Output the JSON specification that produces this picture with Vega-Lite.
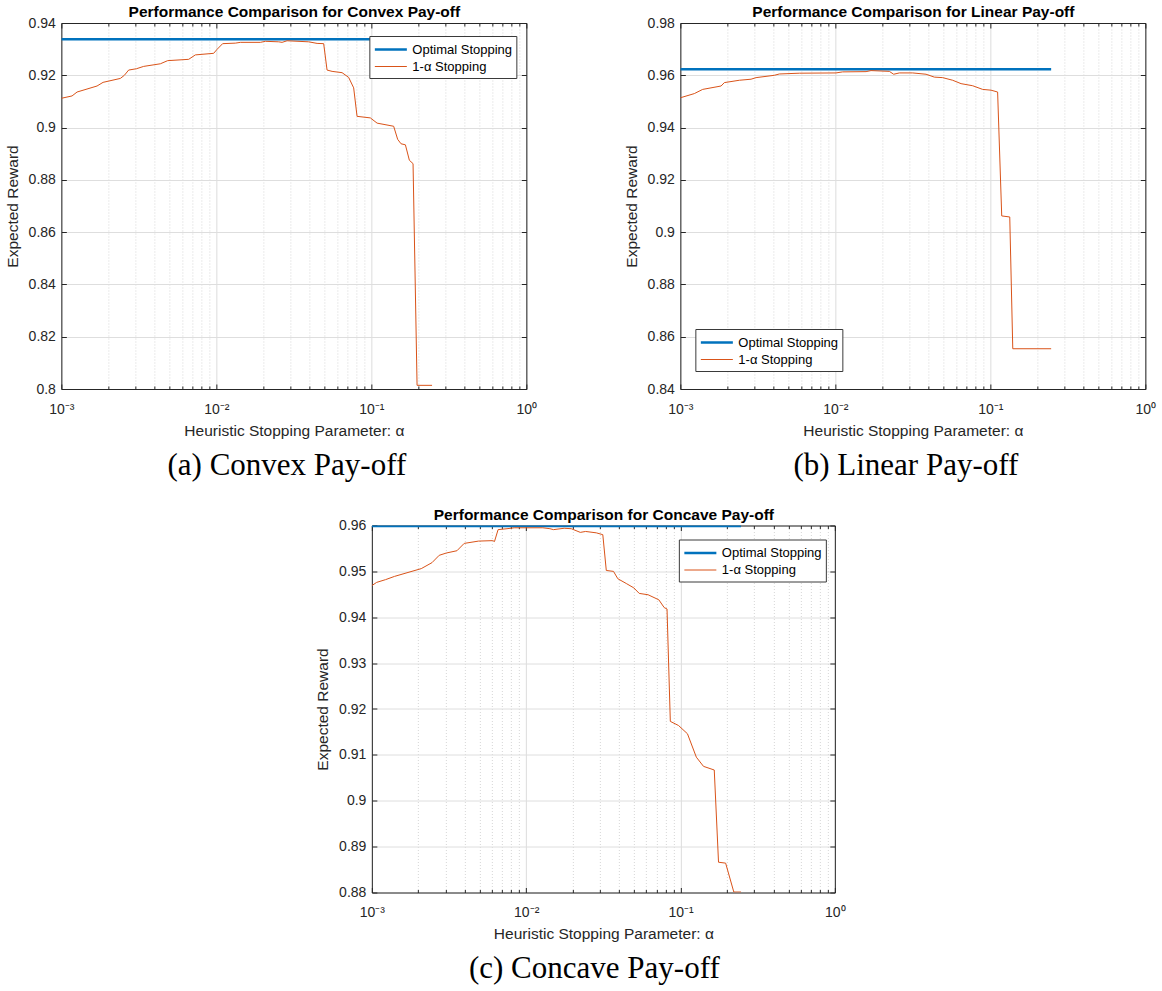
{
  "$schema": "https://vega.github.io/schema/vega-lite/v6.json",
  "padding": {"left": 5, "top": 4, "right": 3, "bottom": 3},
  "background": "white",
  "config": {
    "view": {"stroke": null},
    "font": "Liberation Sans",
    "axis": {
      "labelFont": "Liberation Sans", "labelFontSize": 14, "labelColor": "#262626",
      "titleFont": "Liberation Sans", "titleFontSize": 15.5, "titleColor": "#262626", "titleFontWeight": "normal",
      "domainColor": "#262626", "domainWidth": 1, "tickColor": "#262626", "tickWidth": 1,
      "gridColor": "#e0e0e0", "gridWidth": 1, "labelFlush": false, "labelOverlap": false
    },
    "legend": {
      "title": null, "fillColor": "white", "strokeColor": "#3a3a3a", "padding": 4,
      "symbolType": "M-1,0H3", "symbolSize": 256, "labelFont": "Liberation Sans", "labelFontSize": 13,
      "labelColor": "#000000", "labelOffset": 20, "rowPadding": 1
    },
    "title": {"font": "Liberation Serif", "fontSize": 31, "fontWeight": "normal", "color": "#000000"}
  },
  "resolve": {"scale": {"color": "independent", "strokeWidth": "independent"}, "legend": {"color": "independent", "strokeWidth": "independent"}},
  "vconcat": [
    {
      "spacing": 86,
      "resolve": {"scale": {"color": "independent", "strokeWidth": "independent"}, "legend": {"color": "independent", "strokeWidth": "independent"}},
      "hconcat": [
        {
          "width": 465, "height": 366,
          "title": {"text": "(a) Convex Pay-off", "orient": "bottom", "frame": "group", "dx": -7, "offset": 12},
          "data": {"values": [
            {"a": 0.001, "r": 0.9338, "s": "Optimal Stopping"},
            {"a": 0.2464, "r": 0.9338, "s": "Optimal Stopping"},
            {"a": 0.001, "r": 0.9112, "s": "1-α Stopping"},
            {"a": 0.001172, "r": 0.9121, "s": "1-α Stopping"},
            {"a": 0.001263, "r": 0.9136, "s": "1-α Stopping"},
            {"a": 0.001699, "r": 0.9159, "s": "1-α Stopping"},
            {"a": 0.001858, "r": 0.9173, "s": "1-α Stopping"},
            {"a": 0.002402, "r": 0.9188, "s": "1-α Stopping"},
            {"a": 0.00255, "r": 0.9200, "s": "1-α Stopping"},
            {"a": 0.002718, "r": 0.9220, "s": "1-α Stopping"},
            {"a": 0.003048, "r": 0.9225, "s": "1-α Stopping"},
            {"a": 0.003396, "r": 0.9234, "s": "1-α Stopping"},
            {"a": 0.004352, "r": 0.9244, "s": "1-α Stopping"},
            {"a": 0.004851, "r": 0.9256, "s": "1-α Stopping"},
            {"a": 0.006629, "r": 0.9261, "s": "1-α Stopping"},
            {"a": 0.007318, "r": 0.9278, "s": "1-α Stopping"},
            {"a": 0.009608, "r": 0.9284, "s": "1-α Stopping"},
            {"a": 0.0101, "r": 0.9299, "s": "1-α Stopping"},
            {"a": 0.01098, "r": 0.9321, "s": "1-α Stopping"},
            {"a": 0.01326, "r": 0.9323, "s": "1-α Stopping"},
            {"a": 0.01428, "r": 0.9326, "s": "1-α Stopping"},
            {"a": 0.01923, "r": 0.9326, "s": "1-α Stopping"},
            {"a": 0.0207, "r": 0.9330, "s": "1-α Stopping"},
            {"a": 0.02523, "r": 0.9328, "s": "1-α Stopping"},
            {"a": 0.02654, "r": 0.9326, "s": "1-α Stopping"},
            {"a": 0.02858, "r": 0.9332, "s": "1-α Stopping"},
            {"a": 0.03939, "r": 0.9328, "s": "1-α Stopping"},
            {"a": 0.04465, "r": 0.9322, "s": "1-α Stopping"},
            {"a": 0.04925, "r": 0.9321, "s": "1-α Stopping"},
            {"a": 0.05178, "r": 0.9220, "s": "1-α Stopping"},
            {"a": 0.05579, "r": 0.9215, "s": "1-α Stopping"},
            {"a": 0.06471, "r": 0.9210, "s": "1-α Stopping"},
            {"a": 0.07137, "r": 0.9192, "s": "1-α Stopping"},
            {"a": 0.07689, "r": 0.9152, "s": "1-α Stopping"},
            {"a": 0.08086, "r": 0.9043, "s": "1-α Stopping"},
            {"a": 0.0985, "r": 0.9037, "s": "1-α Stopping"},
            {"a": 0.1089, "r": 0.9017, "s": "1-α Stopping"},
            {"a": 0.1393, "r": 0.9005, "s": "1-α Stopping"},
            {"a": 0.1478, "r": 0.8955, "s": "1-α Stopping"},
            {"a": 0.1554, "r": 0.8938, "s": "1-α Stopping"},
            {"a": 0.1658, "r": 0.8934, "s": "1-α Stopping"},
            {"a": 0.1759, "r": 0.8875, "s": "1-α Stopping"},
            {"a": 0.1858, "r": 0.8862, "s": "1-α Stopping"},
            {"a": 0.1972, "r": 0.8014, "s": "1-α Stopping"},
            {"a": 0.2464, "r": 0.8014, "s": "1-α Stopping"}
          ]},
          "layer": [
            {
              "transform": [{"filter": "datum.s == 'Optimal Stopping'"}],
              "mark": {"type": "line", "clip": true},
              "encoding": {
                "x": {"field": "a", "type": "quantitative", "scale": {"type": "log", "domain": [0.001, 1], "nice": false},
                  "axis": {"orient": "bottom", "values": [0.001,0.002,0.003,0.004,0.005,0.006,0.007,0.008,0.009,0.01,0.02,0.03,0.04,0.05,0.06,0.07,0.08,0.09,0.1,0.2,0.3,0.4,0.5,0.6,0.7,0.8,0.9,1],
                    "labelExpr": "datum.value==0.001?'10⁻³':datum.value==0.01?'10⁻²':datum.value==0.1?'10⁻¹':datum.value==1?'10⁰':''",
                    "labelPadding": 18,
                    "tickSize": {"condition": {"test": "datum.value==0.001||datum.value==0.01||datum.value==0.1||datum.value==1", "value": -5}, "value": -3},
                    "grid": true,
                    "gridDash": {"condition": {"test": "datum.value==0.001||datum.value==0.01||datum.value==0.1||datum.value==1", "value": []}, "value": [1, 2]},
                    "gridColor": {"condition": {"test": "datum.value==0.001||datum.value==0.01||datum.value==0.1||datum.value==1", "value": "#dcdcdc"}, "value": "#d6d6d6"},
                    "title": "Heuristic Stopping Parameter: α", "titlePadding": 5}},
                "y": {"field": "r", "type": "quantitative", "scale": {"domain": [0.8, 0.94], "nice": false, "zero": false},
                  "axis": {"orient": "left", "values": [0.8,0.82,0.84,0.86,0.88,0.9,0.92,0.94], "format": ".2~f", "labelPadding": 11, "tickSize": -5, "grid": true, "gridColor": "#dedede", "title": "Expected Reward", "titlePadding": 8}},
                "color": {"field": "s", "type": "nominal", "scale": {"domain": ["Optimal Stopping", "1-α Stopping"], "range": ["#0072BD", "#D95319"]},
                  "legend": {"orient": "none", "legendX": 308, "legendY": 13}},
                "strokeWidth": {"field": "s", "type": "nominal", "scale": {"domain": ["Optimal Stopping", "1-α Stopping"], "range": [2.5, 1]},
                  "legend": {"orient": "none", "legendX": 308, "legendY": 13}}
              }
            },
            {
              "transform": [{"filter": "datum.s != 'Optimal Stopping'"}],
              "mark": {"type": "line", "clip": true},
              "encoding": {
                "x": {"field": "a", "type": "quantitative",
                  "axis": {"orient": "top", "values": [0.001,0.002,0.003,0.004,0.005,0.006,0.007,0.008,0.009,0.01,0.02,0.03,0.04,0.05,0.06,0.07,0.08,0.09,0.1,0.2,0.3,0.4,0.5,0.6,0.7,0.8,0.9,1],
                    "labels": false, "grid": false,
                    "tickSize": {"condition": {"test": "datum.value==0.001||datum.value==0.01||datum.value==0.1||datum.value==1", "value": -5}, "value": -3},
                    "title": "Performance Comparison for Convex Pay-off", "titleFontWeight": "bold", "titleColor": "#000000", "titlePadding": 3}},
                "y": {"field": "r", "type": "quantitative",
                  "axis": {"orient": "right", "values": [0.8,0.82,0.84,0.86,0.88,0.9,0.92,0.94], "labels": false, "grid": false, "tickSize": -5, "title": null}},
                "color": {"field": "s", "type": "nominal"},
                "strokeWidth": {"field": "s", "type": "nominal"}
              }
            }
          ],
          "resolve": {"axis": {"x": "independent", "y": "independent"}}
        },
        {
          "width": 465, "height": 366,
          "title": {"text": "(b) Linear Pay-off", "orient": "bottom", "frame": "group", "dx": -7, "offset": 12},
          "data": {"values": [
            {"a": 0.001, "r": 0.9623, "s": "Optimal Stopping"},
            {"a": 0.2467, "r": 0.9623, "s": "Optimal Stopping"},
            {"a": 0.001, "r": 0.9514, "s": "1-α Stopping"},
            {"a": 0.001231, "r": 0.9530, "s": "1-α Stopping"},
            {"a": 0.001393, "r": 0.9546, "s": "1-α Stopping"},
            {"a": 0.001831, "r": 0.9559, "s": "1-α Stopping"},
            {"a": 0.001923, "r": 0.9572, "s": "1-α Stopping"},
            {"a": 0.002402, "r": 0.9581, "s": "1-α Stopping"},
            {"a": 0.002858, "r": 0.9585, "s": "1-α Stopping"},
            {"a": 0.003079, "r": 0.9591, "s": "1-α Stopping"},
            {"a": 0.004043, "r": 0.9600, "s": "1-α Stopping"},
            {"a": 0.004352, "r": 0.9605, "s": "1-α Stopping"},
            {"a": 0.005857, "r": 0.9608, "s": "1-α Stopping"},
            {"a": 0.0101, "r": 0.9609, "s": "1-α Stopping"},
            {"a": 0.01114, "r": 0.9613, "s": "1-α Stopping"},
            {"a": 0.01578, "r": 0.9614, "s": "1-α Stopping"},
            {"a": 0.01699, "r": 0.9618, "s": "1-α Stopping"},
            {"a": 0.0223, "r": 0.9615, "s": "1-α Stopping"},
            {"a": 0.02377, "r": 0.9604, "s": "1-α Stopping"},
            {"a": 0.02588, "r": 0.9609, "s": "1-α Stopping"},
            {"a": 0.03153, "r": 0.9609, "s": "1-α Stopping"},
            {"a": 0.03846, "r": 0.9604, "s": "1-α Stopping"},
            {"a": 0.04352, "r": 0.9593, "s": "1-α Stopping"},
            {"a": 0.04925, "r": 0.9591, "s": "1-α Stopping"},
            {"a": 0.05712, "r": 0.9581, "s": "1-α Stopping"},
            {"a": 0.06471, "r": 0.9568, "s": "1-α Stopping"},
            {"a": 0.07689, "r": 0.9560, "s": "1-α Stopping"},
            {"a": 0.08918, "r": 0.9546, "s": "1-α Stopping"},
            {"a": 0.1010, "r": 0.9543, "s": "1-α Stopping"},
            {"a": 0.1114, "r": 0.9536, "s": "1-α Stopping"},
            {"a": 0.1184, "r": 0.9062, "s": "1-α Stopping"},
            {"a": 0.1334, "r": 0.9058, "s": "1-α Stopping"},
            {"a": 0.1395, "r": 0.8554, "s": "1-α Stopping"},
            {"a": 0.2467, "r": 0.8554, "s": "1-α Stopping"}
          ]},
          "layer": [
            {
              "transform": [{"filter": "datum.s == 'Optimal Stopping'"}],
              "mark": {"type": "line", "clip": true},
              "encoding": {
                "x": {"field": "a", "type": "quantitative", "scale": {"type": "log", "domain": [0.001, 1], "nice": false},
                  "axis": {"orient": "bottom", "values": [0.001,0.002,0.003,0.004,0.005,0.006,0.007,0.008,0.009,0.01,0.02,0.03,0.04,0.05,0.06,0.07,0.08,0.09,0.1,0.2,0.3,0.4,0.5,0.6,0.7,0.8,0.9,1],
                    "labelExpr": "datum.value==0.001?'10⁻³':datum.value==0.01?'10⁻²':datum.value==0.1?'10⁻¹':datum.value==1?'10⁰':''",
                    "labelPadding": 18,
                    "tickSize": {"condition": {"test": "datum.value==0.001||datum.value==0.01||datum.value==0.1||datum.value==1", "value": -5}, "value": -3},
                    "grid": true,
                    "gridDash": {"condition": {"test": "datum.value==0.001||datum.value==0.01||datum.value==0.1||datum.value==1", "value": []}, "value": [1, 2]},
                    "gridColor": {"condition": {"test": "datum.value==0.001||datum.value==0.01||datum.value==0.1||datum.value==1", "value": "#dcdcdc"}, "value": "#d6d6d6"},
                    "title": "Heuristic Stopping Parameter: α", "titlePadding": 5}},
                "y": {"field": "r", "type": "quantitative", "scale": {"domain": [0.84, 0.98], "nice": false, "zero": false},
                  "axis": {"orient": "left", "values": [0.84,0.86,0.88,0.9,0.92,0.94,0.96,0.98], "format": ".2~f", "labelPadding": 11, "tickSize": -5, "grid": true, "gridColor": "#dedede", "title": "Expected Reward", "titlePadding": 8}},
                "color": {"field": "s", "type": "nominal", "scale": {"domain": ["Optimal Stopping", "1-α Stopping"], "range": ["#0072BD", "#D95319"]},
                  "legend": {"orient": "none", "legendX": 15, "legendY": 306}},
                "strokeWidth": {"field": "s", "type": "nominal", "scale": {"domain": ["Optimal Stopping", "1-α Stopping"], "range": [2.5, 1]},
                  "legend": {"orient": "none", "legendX": 15, "legendY": 306}}
              }
            },
            {
              "transform": [{"filter": "datum.s != 'Optimal Stopping'"}],
              "mark": {"type": "line", "clip": true},
              "encoding": {
                "x": {"field": "a", "type": "quantitative",
                  "axis": {"orient": "top", "values": [0.001,0.002,0.003,0.004,0.005,0.006,0.007,0.008,0.009,0.01,0.02,0.03,0.04,0.05,0.06,0.07,0.08,0.09,0.1,0.2,0.3,0.4,0.5,0.6,0.7,0.8,0.9,1],
                    "labels": false, "grid": false,
                    "tickSize": {"condition": {"test": "datum.value==0.001||datum.value==0.01||datum.value==0.1||datum.value==1", "value": -5}, "value": -3},
                    "title": "Performance Comparison for Linear Pay-off", "titleFontWeight": "bold", "titleColor": "#000000", "titlePadding": 3}},
                "y": {"field": "r", "type": "quantitative",
                  "axis": {"orient": "right", "values": [0.84,0.86,0.88,0.9,0.92,0.94,0.96,0.98], "labels": false, "grid": false, "tickSize": -5, "title": null}},
                "color": {"field": "s", "type": "nominal"},
                "strokeWidth": {"field": "s", "type": "nominal"}
              }
            }
          ],
          "resolve": {"axis": {"x": "independent", "y": "independent"}}
        }
      ]
    },
    {
      "width": 463, "height": 367,
      "title": {"text": "(c) Concave Pay-off", "orient": "bottom", "frame": "group", "dx": -9, "offset": 12},
      "data": {"values": [
        {"a": 0.001, "r": 0.9599, "s": "Optimal Stopping"},
        {"a": 0.2467, "r": 0.9599, "s": "Optimal Stopping"},
        {"a": 0.001, "r": 0.9469, "s": "1-α Stopping"},
        {"a": 0.001074, "r": 0.9476, "s": "1-α Stopping"},
        {"a": 0.001227, "r": 0.9482, "s": "1-α Stopping"},
        {"a": 0.001401, "r": 0.9489, "s": "1-α Stopping"},
        {"a": 0.001689, "r": 0.9497, "s": "1-α Stopping"},
        {"a": 0.00209, "r": 0.9506, "s": "1-α Stopping"},
        {"a": 0.002452, "r": 0.9519, "s": "1-α Stopping"},
        {"a": 0.002731, "r": 0.9535, "s": "1-α Stopping"},
        {"a": 0.003036, "r": 0.9540, "s": "1-α Stopping"},
        {"a": 0.003559, "r": 0.9545, "s": "1-α Stopping"},
        {"a": 0.003965, "r": 0.9561, "s": "1-α Stopping"},
        {"a": 0.004909, "r": 0.9566, "s": "1-α Stopping"},
        {"a": 0.006074, "r": 0.9567, "s": "1-α Stopping"},
        {"a": 0.006231, "r": 0.9565, "s": "1-α Stopping"},
        {"a": 0.006575, "r": 0.9591, "s": "1-α Stopping"},
        {"a": 0.007509, "r": 0.9593, "s": "1-α Stopping"},
        {"a": 0.008361, "r": 0.9595, "s": "1-α Stopping"},
        {"a": 0.01281, "r": 0.9595, "s": "1-α Stopping"},
        {"a": 0.01425, "r": 0.9593, "s": "1-α Stopping"},
        {"a": 0.01503, "r": 0.9591, "s": "1-α Stopping"},
        {"a": 0.01763, "r": 0.9594, "s": "1-α Stopping"},
        {"a": 0.0196, "r": 0.9593, "s": "1-α Stopping"},
        {"a": 0.02242, "r": 0.9585, "s": "1-α Stopping"},
        {"a": 0.02427, "r": 0.9587, "s": "1-α Stopping"},
        {"a": 0.02846, "r": 0.9584, "s": "1-α Stopping"},
        {"a": 0.03136, "r": 0.9580, "s": "1-α Stopping"},
        {"a": 0.03304, "r": 0.9502, "s": "1-α Stopping"},
        {"a": 0.03679, "r": 0.9500, "s": "1-α Stopping"},
        {"a": 0.03923, "r": 0.9484, "s": "1-α Stopping"},
        {"a": 0.04481, "r": 0.9473, "s": "1-α Stopping"},
        {"a": 0.04982, "r": 0.9464, "s": "1-α Stopping"},
        {"a": 0.054, "r": 0.9452, "s": "1-α Stopping"},
        {"a": 0.06166, "r": 0.9449, "s": "1-α Stopping"},
        {"a": 0.07235, "r": 0.9438, "s": "1-α Stopping"},
        {"a": 0.07842, "r": 0.9421, "s": "1-α Stopping"},
        {"a": 0.08176, "r": 0.9418, "s": "1-α Stopping"},
        {"a": 0.08587, "r": 0.9173, "s": "1-α Stopping"},
        {"a": 0.09705, "r": 0.9164, "s": "1-α Stopping"},
        {"a": 0.1109, "r": 0.9146, "s": "1-α Stopping"},
        {"a": 0.1266, "r": 0.9095, "s": "1-α Stopping"},
        {"a": 0.1409, "r": 0.9075, "s": "1-α Stopping"},
        {"a": 0.1654, "r": 0.9067, "s": "1-α Stopping"},
        {"a": 0.1763, "r": 0.8866, "s": "1-α Stopping"},
        {"a": 0.196, "r": 0.8864, "s": "1-α Stopping"},
        {"a": 0.2215, "r": 0.8801, "s": "1-α Stopping"},
        {"a": 0.2467, "r": 0.8801, "s": "1-α Stopping"}
      ]},
      "layer": [
        {
          "transform": [{"filter": "datum.s == 'Optimal Stopping'"}],
          "mark": {"type": "line", "clip": true},
          "encoding": {
            "x": {"field": "a", "type": "quantitative", "scale": {"type": "log", "domain": [0.001, 1], "nice": false},
              "axis": {"orient": "bottom", "values": [0.001,0.002,0.003,0.004,0.005,0.006,0.007,0.008,0.009,0.01,0.02,0.03,0.04,0.05,0.06,0.07,0.08,0.09,0.1,0.2,0.3,0.4,0.5,0.6,0.7,0.8,0.9,1],
                "labelExpr": "datum.value==0.001?'10⁻³':datum.value==0.01?'10⁻²':datum.value==0.1?'10⁻¹':datum.value==1?'10⁰':''",
                "labelPadding": 18,
                "tickSize": {"condition": {"test": "datum.value==0.001||datum.value==0.01||datum.value==0.1||datum.value==1", "value": -5}, "value": -3},
                "grid": true,
                "gridDash": {"condition": {"test": "datum.value==0.001||datum.value==0.01||datum.value==0.1||datum.value==1", "value": []}, "value": [1, 2]},
                "gridColor": {"condition": {"test": "datum.value==0.001||datum.value==0.01||datum.value==0.1||datum.value==1", "value": "#dcdcdc"}, "value": "#d6d6d6"},
                "title": "Heuristic Stopping Parameter: α", "titlePadding": 5}},
            "y": {"field": "r", "type": "quantitative", "scale": {"domain": [0.88, 0.96], "nice": false, "zero": false},
              "axis": {"orient": "left", "values": [0.88,0.89,0.9,0.91,0.92,0.93,0.94,0.95,0.96], "format": ".2~f", "labelPadding": 11, "tickSize": -5, "grid": true, "gridColor": "#dedede", "title": "Expected Reward", "titlePadding": 8}},
            "color": {"field": "s", "type": "nominal", "scale": {"domain": ["Optimal Stopping", "1-α Stopping"], "range": ["#0072BD", "#D95319"]},
              "legend": {"orient": "none", "legendX": 307, "legendY": 14}},
            "strokeWidth": {"field": "s", "type": "nominal", "scale": {"domain": ["Optimal Stopping", "1-α Stopping"], "range": [2.5, 1]},
              "legend": {"orient": "none", "legendX": 307, "legendY": 14}}
          }
        },
        {
          "transform": [{"filter": "datum.s != 'Optimal Stopping'"}],
          "mark": {"type": "line", "clip": true},
          "encoding": {
            "x": {"field": "a", "type": "quantitative",
              "axis": {"orient": "top", "values": [0.001,0.002,0.003,0.004,0.005,0.006,0.007,0.008,0.009,0.01,0.02,0.03,0.04,0.05,0.06,0.07,0.08,0.09,0.1,0.2,0.3,0.4,0.5,0.6,0.7,0.8,0.9,1],
                "labels": false, "grid": false,
                "tickSize": {"condition": {"test": "datum.value==0.001||datum.value==0.01||datum.value==0.1||datum.value==1", "value": -5}, "value": -3},
                "title": "Performance Comparison for Concave Pay-off", "titleFontWeight": "bold", "titleColor": "#000000", "titlePadding": 3}},
            "y": {"field": "r", "type": "quantitative",
              "axis": {"orient": "right", "values": [0.88,0.89,0.9,0.91,0.92,0.93,0.94,0.95,0.96], "labels": false, "grid": false, "tickSize": -5, "title": null}},
            "color": {"field": "s", "type": "nominal"},
            "strokeWidth": {"field": "s", "type": "nominal"}
          }
        }
      ],
      "resolve": {"axis": {"x": "independent", "y": "independent"}}
    }
  ],
  "spacing": 25.5,
  "center": true
}
